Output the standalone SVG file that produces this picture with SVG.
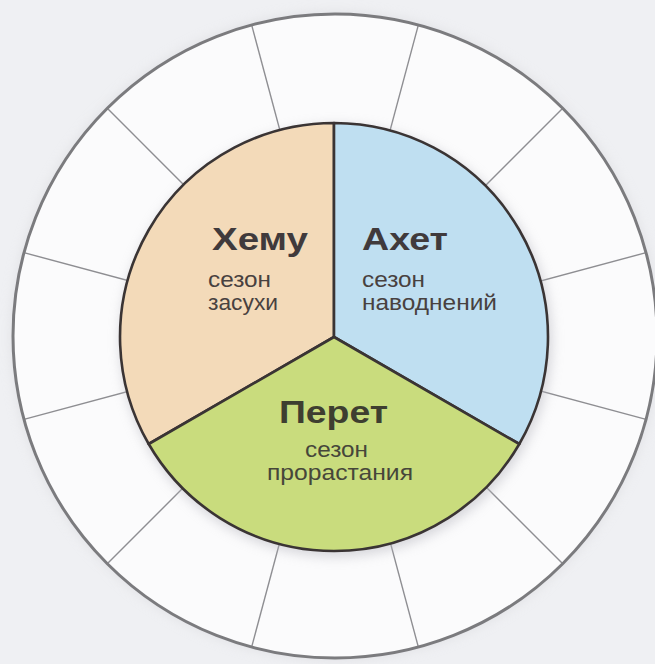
<svg xmlns="http://www.w3.org/2000/svg" width="655" height="664" viewBox="0 0 655 664">
  <defs>
    <filter id="soft" x="-20%" y="-20%" width="140%" height="140%">
      <feGaussianBlur stdDeviation="6"/>
    </filter>
    <style>
      .ring { fill: #fbfbfc; }
      .ringStroke { fill: none; stroke: #7b7b7e; stroke-width: 3; }
      .div { stroke: #8e8e92; stroke-width: 1.4; fill: none; }
      .sector { stroke: #3a3434; stroke-width: 2.6; stroke-linejoin: round; }
      .title { font-family: "Liberation Sans", Arial, sans-serif; font-weight: bold; font-size: 31px; fill: #403a3c; }
      .sub { font-family: "Liberation Sans", Arial, sans-serif; font-size: 22px; fill: #48413f; }
      .gt { fill: #3e3e30; }
      .gs { fill: #46463a; }
    </style>
  </defs>
  <rect x="0" y="0" width="655" height="664" fill="#eff0f3"/>

  <g id="outer-ring">
    <circle cx="335" cy="336" r="324" fill="#d8d8dc" filter="url(#soft)" opacity="0.6"/>
    <circle class="ring" cx="335" cy="336" r="322"/>
  </g>

  <g id="connectors">
    <line class="div" x1="479.9" y1="374.8" x2="645.1" y2="419.1"/>
    <line class="div" x1="441.1" y1="442.1" x2="562.0" y2="563.0"/>
    <line class="div" x1="373.8" y1="480.9" x2="418.1" y2="646.1"/>
    <line class="div" x1="296.2" y1="480.9" x2="251.9" y2="646.1"/>
    <line class="div" x1="228.9" y1="442.1" x2="108.0" y2="563.0"/>
    <line class="div" x1="190.1" y1="374.8" x2="24.9" y2="419.1"/>
    <line class="div" x1="190.1" y1="297.2" x2="24.9" y2="252.9"/>
    <line class="div" x1="228.9" y1="229.9" x2="108.0" y2="109.0"/>
    <line class="div" x1="296.2" y1="191.1" x2="251.9" y2="25.9"/>
    <line class="div" x1="373.8" y1="191.1" x2="418.1" y2="25.9"/>
    <line class="div" x1="441.1" y1="229.9" x2="562.0" y2="109.0"/>
    <line class="div" x1="479.9" y1="297.2" x2="645.1" y2="252.9"/>
  </g>

  <g id="outer-ring-edge">
    <circle class="ringStroke" cx="335" cy="336" r="322"/>
  </g>

  <circle cx="336" cy="341" r="216" fill="#b8b8c0" filter="url(#soft)" opacity="0.55"/>

  <g id="khemu">
    <path class="sector" fill="#f3dab9" d="M334,337 L334,123 A214,214 0 0,0 148.7,444 Z"/>
    <text class="title" x="212" y="250" textLength="96" lengthAdjust="spacingAndGlyphs">Хему</text>
    <text class="sub" x="208" y="287" textLength="63" lengthAdjust="spacingAndGlyphs">сезон</text>
    <text class="sub" x="208" y="310" textLength="70" lengthAdjust="spacingAndGlyphs">засухи</text>
  </g>

  <g id="akhet">
    <path class="sector" fill="#bfdff1" d="M334,337 L334,123 A214,214 0 0,1 519.3,444 Z"/>
    <text class="title" x="362" y="250" textLength="86" lengthAdjust="spacingAndGlyphs">Ахет</text>
    <text class="sub" x="362" y="287" textLength="63" lengthAdjust="spacingAndGlyphs">сезон</text>
    <text class="sub" x="362" y="310" textLength="135" lengthAdjust="spacingAndGlyphs">наводнений</text>
  </g>

  <g id="peret">
    <path class="sector" fill="#c9dc7d" d="M334,337 L148.7,444 A214,214 0 0,0 519.3,444 Z"/>
    <text class="title gt" x="279" y="423" textLength="109" lengthAdjust="spacingAndGlyphs">Перет</text>
    <text class="sub gs" x="305" y="457" textLength="63" lengthAdjust="spacingAndGlyphs">сезон</text>
    <text class="sub gs" x="267" y="480" textLength="146" lengthAdjust="spacingAndGlyphs">прорастания</text>
  </g>
</svg>
